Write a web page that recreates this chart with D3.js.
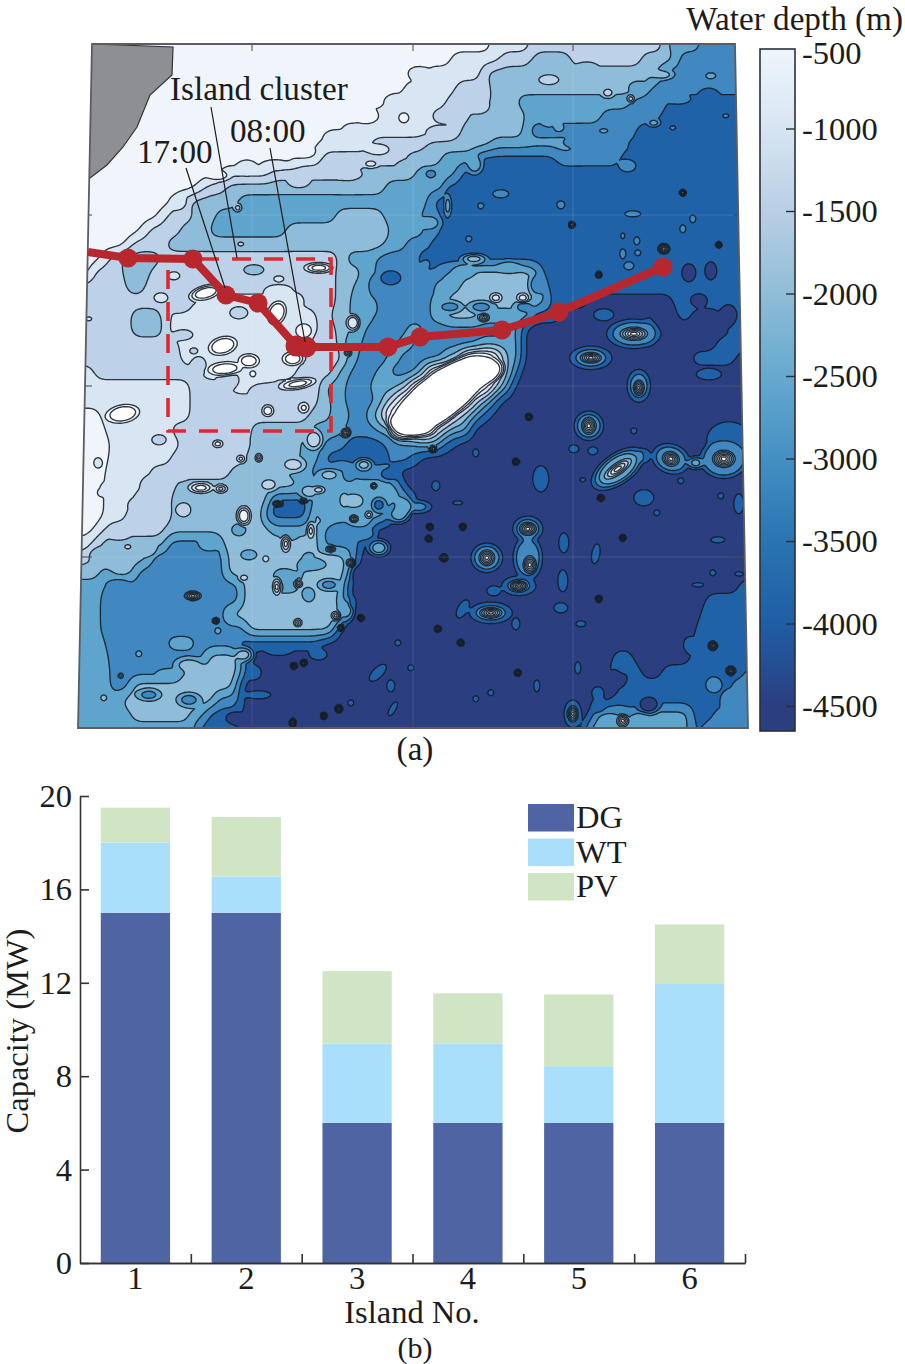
<!DOCTYPE html>
<html><head><meta charset="utf-8">
<script src="https://cdn.jsdelivr.net/npm/d3@7"></script>
<style>
html,body{margin:0;padding:0;background:#fff}
svg{display:block}
text{font-family:"Liberation Serif",serif;fill:#1c1c1c}
</style></head><body><svg id="c" width="905" height="1364"></svg>
<script>
// ---- Panel (a): bathymetry. Each row: "level:endKm" runs, west to east (map km).
const bandColors=["#ffffff","#eff5fb","#d8e5f3","#bdd2e8","#8fbcd9","#5ea4cc","#4088bf","#2062a7","#2a3e80"];
const bathymetryRuns=[
"1:412 2:452 3:587 5:622 6",
"1:372 2:422 3:452 4:492 3:562 4:597 6",
"1:347 2:402 3:407 4:582 6",
"1:325 2:377 3:412 4:562 5:572 6",
"1:307 2:367 3:412 4:437 5:552 6:590 7",
"1:287 2:352 3:392 4:447 5:522 6:582 7",
"1:262 2:375 3:382 4:447 6:557 7",
"1:240 2:292 3:347 4:412 5:497 6:552 7",
"1:217 2:242 3:327 4:362 5:397 7:477 6:542 7",
"1:142 2:192 3:280 4:337 5:380 7",
"1:117 2:127 3:147 4:307 5:367 7",
"1:92 2:100 3:112 4:159 5:352 7",
"1:80 2:87 3:114 4:137 5:257 4:305 5:342 6:362 7",
"1:62 2:69 3:102 4:130 5:207 4:312 5:347 6:362 7",
"1:47 2:54 3:87 4:307 5:327 6:352 7",
"1:22 2:30 3:42 4:82 3:260 4:267 5:297 6:342 7",
"1:12 2:14 3:44 4:72 3:257 4:282 5:297 6:367 5:392 4:452 5:462 7",
"3:47 4:67 3:257 4:274 5:290 6:357 5:382 4:457 5:467 7",
"3:117 2:222 3:257 4:272 5:294 6:352 5:367 4:452 5:470 7:510 8:594 7",
"3:52 4:82 3:92 2:237 3:252 4:272 5:297 6:352 5:367 4:400 5:452 7:482 8:600 7:612 8:642 7",
"3:52 4:87 2:240 3:257 4:272 5:287 6:327 5:345 6:430 5:442 8:652 7",
"3:100 2:232 3:262 5:282 6:317 5:335 6:400 5:442 8:637 7",
"3:102 2:227 3:267 5:280 6:307 5:322 6:365 4:384 0:420 4:428 5:442 8:612 7:657 8",
"2:15 3:122 2:217 3:257 5:272 6:297 5:312 6:340 4:350 0:417 3:427 5:437 8",
"2:112 3:152 2:192 3:244 5:267 6:290 5:320 4:332 0:410 3:420 5:432 8",
"2:112 3:240 4:252 5:267 6:297 5:307 3:320 0:392 3:402 5:414 7:422 8",
"1:22 2:112 3:232 4:252 5:272 6:290 4:307 0:372 3:387 5:400 7:412 8",
"1:27 2:92 3:172 4:232 5:267 6:297 5:317 0:354 3:367 5:392 8",
"1:32 2:102 3:172 4:222 5:247 6:267 7:307 6:337 5:362 7:377 8",
"1:30 2:92 3:167 4:222 5:242 7:312 6:332 7:342 8",
"1:27 2:72 3:152 4:207 5:232 6:257 5:272 6:314 8",
"1:25 2:62 3:97 4:222 5:322 8",
"1:25 2:52 3:92 4:192 7:232 5:262 4:287 5:334 8",
"1:25 2:47 3:94 4:187 7:232 4:252 5:312 8",
"1:15 2:27 3:87 4:192 5:232 4:242 6:287 5:294 8",
"2:12 3:22 4:87 6:142 4:242 6:282 8",
"3:12 4:72 6:147 4:222 5:237 4:267 5:278 8",
"4:22 5:32 4:57 6:147 4:217 5:227 4:272 8",
"5:25 6:162 4:192 5:222 4:267 8:660 7",
"5:22 6:162 4:257 5:270 8:627 7",
"5:22 6:147 4:267 8:622 7",
"5:22 6:167 4:257 8:617 7",
"5:27 6:87 5:117 6:157 7:242 8:614 7",
"5:30 6:127 4:162 7:172 8:534 7:554 8:612 7",
"5:32 6:102 4:162 7:177 8:530 7:562 8:584 7:667 6",
"5:32 6:52 4:157 7:162 8:544 7:652 6",
"5:42 4:137 6:162 8:534 7:649 6",
"5:52 4:112 5:127 7:162 8:514 5:542 6:562 5:612 7:634 6",
"5:117 7:157 8:507 5:612 7:622 6"];
// Features finer than the rows: [eastKm, southKm, radiusE, radiusS, level, bearing]
const contourLobes=[[339,28,9,6,2],[318,56,9,5,2],[290,72,9,6,1],[255,92,8,6,2],[225,108,10,5,1],[195,120,10,4,2],[168,122,8,6,2],[140,131,9,4,1],[100,158,7,6,2],
[400,62,8,6,3],[360,86,10,4,3],[300,105,10,5,2],[330,120,9,4,4],[270,130,11,4,3],[220,138,9,5,3],
[396,120,7,8,5],[375,150,7,7,7],[352,178,8,6,5],[372,205,9,6,7],[350,215,8,8,7],[330,231,9,5,6],[300,240,8,9,6],[290,262,7,8,5],
[470,35,10,5,3],[508,22,8,4,4],[558,42,7,5,5],[584,30,9,4,4],[470,70,8,10,5],[500,98,12,4,6],[560,100,7,5,7],[510,108,10,5,6],[600,55,10,4,6],[630,50,8,6,7],
[525,270,10,6,7],[570,285,6,12,7],[620,255,8,6,8],[600,310,9,7,8],[630,330,12,5,7],[650,270,8,10,8],
[230,447,8,6,4],[250,430,9,5,4],[300,460,6,6,7],[340,462,10,5,6],[320,470,9,7,5],[325,462,8,8,5],[300,503,9,7,5],[280,530,6,7,8],[268,565,6,9,5],[240,610,8,5,7],[200,606,10,4,7],[176,628,6,6,7],[180,650,12,4,7],[155,673,8,6,8],
[30,445,8,6,2],[60,415,7,8,2],[80,395,7,5,3],[100,430,8,5,3],[72,440,8,7,3],[40,488,9,6,3],[60,460,8,5,3],[105,465,7,7,3],[120,452,8,6,4],[20,510,8,6,4],[70,505,7,6,4],[130,500,9,6,5],[40,540,9,5,6],[110,620,12,6,4],[90,628,10,4,5],[165,610,8,6,4],[110,655,10,6,6],[70,650,10,5,6],[140,635,8,5,4],
[540,633,8,8,8],[520,660,6,7,7],[570,660,10,8,8],[610,600,5,7,7],[640,585,8,5,7],[635,640,8,8,6],[650,655,8,9,6],[600,690,10,5,6],[560,675,9,6,5],[530,682,7,6,5],
[100,260,9,7,3],[160,268,9,6,3],[200,245,12,5,2],[175,225,10,5,4],[215,255,8,6,2],[150,335,10,8,3],[185,345,12,6,3],[120,320,7,8,3],[105,290,9,5,3],
[185,395,9,6,4],[215,420,10,6,3],[130,415,8,5,3],[235,395,8,9,3],
[270,430,5,6,6],[285,420,7,5,4],[310,430,8,5,7],[280,475,9,6,5],[250,470,8,5,5],[235,520,12,5,5],[205,530,9,6,5],[190,440,7,5,3],[210,490,7,5,5],[285,490,10,5,6],[250,540,9,5,6],[160,485,7,6,5],[170,510,8,5,5],[230,550,6,7,5],
[385,226,9,6,5],[430,222,10,5,5],[458,240,7,9,6],[372,262,10,5,6],[402,262,11,5,6],[445,262,8,5,6],[365,245,7,7,5],[395,214,10,4,4]];
const mainIsland=[[362,351,60,23,0,-38],[400,328,24,13,0,-15],[332,380,22,10,0,10]];
const shoalIslands=[[127,248,14,6,0,-15],[198,268,8,11,0,20],[144,301,13,8,0,-15],[170,316,9,6,0,0],[146,324,15,6,0,-5],[214,314,9,6,0,0],[219,339,14,4,0,-10],[240,223,11,4,0,0],[44,369,15,8,0,-10],[189,366,5,5,1,0],[225,286,8,7,1,0],[274,278,6,7,2,0],[417,253,5,4,2,0],[444,253,5,4,2,0]];
const reefHalos=[[555,289,24,13,6,0],[512,313,18,10,6,0],[560,341,10,14,6,0],[510,381,13,13,6,0],[539,424,26,13,5,-35],[592,414,17,13,6,20],[617,418,7,5,5,0],[650,395,22,18,7,0],[645,414,22,18,6,0],[449,484,13,11,6,0],[449,513,13,20,6,0],[440,541,14,8,6,0],[408,513,14,13,6,0],[412,568,18,9,6,0],[494,669,7,11,6,0]];
const reefCores=[[555,289,21,10,1,0],[512,313,16,8,1,0],[560,343,8,12,1,0],[510,381,11,13,1,0],[539,424,25,9,1,-35],[592,414,13,11,1,20],[645,414,17,13,0,0],[449,484,13,10,1,0],[451,520,10,14,1,0],[440,541,13,8,1,0],[408,513,12,12,1,0],[412,568,17,8,1,0],[544,676,10,10,1,0],[634,601,7,7,1,0],[652,626,7,7,1,0],[365,513,6,6,1,0],[267,388,8,8,1,0],[354,404,6,6,1,0],[180,413,6,7,1,0],[162,414,8,7,1,0],[142,444,11,7,1,0],[199,459,8,5,1,0],[225,456,7,4,1,0],[198,542,8,15,1,0],[220,539,7,7,1,0],[219,578,7,7,1,0],[257,571,8,8,1,0],[272,518,7,7,1,0],[252,504,8,5,1,0],[275,474,7,6,1,0],[295,441,5,5,1,0],[114,551,13,7,1,0],[207,499,8,14,1,0],[232,486,7,15,2,0],[260,664,6,6,1,0],[214,678,5,7,2,0],[225,363,10,10,1,0],[269,308,6,6,1,0],[405,273,9,7,1,0],[585,204,9,8,1,0],[494,669,7,11,2,0]];
const oceanPatches=[[357,441,4,5,7,0],[379,458,5,2,7,0],[384,564,5,10,7,30],[312,641,4,6,7,0],[299,628,11,5,7,-45],[314,664,3,8,7,30],[462,434,8,13,7,0],[565,453,10,8,7,0],[485,498,5,10,7,0],[517,509,4,10,7,10],[484,536,5,11,7,0],[482,563,7,5,7,0],[545,619,7,9,7,0],[415,546,7,5,7,0],[660,459,5,10,7,0],[639,495,7,3,7,0],[519,648,6,6,7,0],[495,404,5,4,7,0],[514,406,5,4,7,0],[565,411,7,7,7,0],[555,386,3,3,7,0],[602,436,3,3,7,0],[642,451,3,3,7,0],[578,468,3,3,7,0],[502,579,5,3,7,0],[458,641,3,6,7,0],[412,648,3,3,7,0],[437,579,4,6,7,0],[499,623,3,6,7,0],[660,529,4,2,7,0],[619,540,6,2,7,0],[634,528,3,3,7,0],[504,435,3,2,7,0],[397,408,3,4,7,0],[319,598,3,3,7,0],[332,623,3,3,7,0],[272,658,3,3,7,0],[397,654,3,3,7,0],[274,558,3,5,7,0],[610,228,7,9,8,0],[632,226,6,9,8,0],[544,209,3,5,6,0],[559,208,3,3,6,0],[550,221,5,4,6,0],[558,196,3,4,6,0],[544,191,2,3,6,0],[614,174,3,4,6,0],[604,184,3,4,6,0],[554,169,8,3,6,0],[482,160,4,4,6,0],[422,149,8,4,6,0],[549,121,8,6,6,0],[369,161,3,9,5,0],[402,161,3,3,6,0],[390,194,3,3,6,0],[352,129,5,4,6,0],[312,233,10,7,7,0],[347,219,4,4,6,0]];
const blackSpecks=[[520,554],[439,628],[544,493],[450,372],[522,453],[437,417],[351,482],[384,482],[350,494],[282,573],[262,583],[215,621],[225,618],[245,671],[382,598],[359,584],[137,576],[604,148],[640,200],[520,230],[493,180]];
const shelfRings=[[632,31,5,3,5,0],[529,48,5,4,3,0],[552,54,3,3,3,0],[480,83,4,3,5,0],[525,86,4,2,5,0],[575,78,5,3,5,0],[594,83,3,2,6,0],[647,71,3,2,6,0],[325,73,5,5,1,0],[292,119,6,3,2,0],[200,234,5,3,2,0],[162,199,3,2,3,0],[159,163,3,3,3,0],[95,231,6,4,2,0],[82,253,7,5,2,0],[10,274,3,2,2,0],[174,329,3,3,1,0],[115,306,4,3,3,0],[139,399,4,3,1,0],[19,418,4,5,2,0],[22,448,3,3,2,0],[49,502,3,2,3,0],[60,609,3,3,5,0],[42,631,2,2,4,0],[139,586,3,3,5,0],[25,653,3,3,4,0],[165,471,6,8,1,0],[122,443,9,4,1,0],[165,533,4,3,3,0],[187,514,3,3,3,0],[240,445,5,3,3,0],[265,455,3,5,4,0],[290,470,3,3,3,0]];
const mainlandCoast=[[14,0],[95,3],[94,31],[72,51],[59,83],[45,103],[29,121],[12,134],[0,140],[0,0]];
const mapFrame=[[14,0],[657,0],[670,684],[0,684]];
const gridEast=[174,335,495], gridSouth=[171,342,513];
const routeStops=[[10,208],[50,214],[115,215],[148,251],[180,259],[218,302],[228,303],[310,303],[342,293],[424,286],[481,268],[585,223]];
const clusterBox=[[90,215],[253,387]];
const notes=[{t:"Island cluster",e:92,s:56,to:[[133,63],[159,214]]},{t:"17:00",e:59,s:119,to:[[108,124],[147,244]]},{t:"08:00",e:152,s:98,to:[[192,104],[227,298]]}];
// colour bar
const depthTicks=[-500,-1000,-1500,-2000,-2500,-3000,-3500,-4000,-4500];
const depthStops=[["-500","#eef5fb"],["-1000","#d7e5f2"],["-1500","#b9cfe5"],["-2000","#8fbdd7"],["-2500","#66a9cf"],["-3000","#4490c3"],["-3500","#2a74b1"],["-4000","#1f5ea5"],["-4500","#2b3e80"]];
// ---- Panel (b)
const islands=["1","2","3","4","5","6"];
const dgCapacity=[15,15,6,6,6,6];
const wtCapacity=[3,1.55,3.4,3.4,2.43,5.95];
const pvCapacity=[1.5,2.55,3.1,2.15,3.07,2.55];
const capacityTicks=[0,4,8,12,16,20];
const seriesNames=["DG","WT","PV"];
const seriesColors=["#4f65a3","#aadffb","#cfe5c4"];

const svg=d3.select("#c");
const FS=33.2;
const eX=d3.scaleLinear().domain([0,670]).range([78,748]);
const sY=d3.scaleLinear().domain([0,684]).range([44,728]);

// --- field
const cell=1.6,nx=Math.ceil(670/cell)+1,ny=Math.ceil(684/cell)+1;
const rowStep=684/(bathymetryRuns.length-1);
const parsed=bathymetryRuns.map(r=>r.split(" ").map(p=>{const[a,b]=p.split(":");return[+a,b===undefined?1e9:+b]}));
const levelAt=(row,e)=>{for(const[l,end]of row)if(e<end)return l;return row[row.length-1][0]};
const rowCols=parsed.map(row=>d3.range(nx).map(i=>levelAt(row,i*cell)));
const field=new Float64Array(nx*ny);
for(let j=0;j<ny;j++){const q=j*cell/rowStep,j0=Math.min(Math.floor(q),rowCols.length-1),j1=Math.min(j0+1,rowCols.length-1),t=q-j0;
 for(let i=0;i<nx;i++)field[j*nx+i]=rowCols[j0][i]*(1-t)+rowCols[j1][i]*t;}
d3.blur2({data:field,width:nx,height:ny},3,2.6);
function stamp(list,edge,cone){for(const[e,s,rx,ry,lev,ang=0]of list){
 const a=ang*Math.PI/180,c=Math.cos(a),si=Math.sin(a),R=Math.max(rx,ry)+edge+2;
 const ek=Math.min(edge/Math.min(rx,ry),.6);
 for(let j=Math.max(0,Math.floor((s-R)/cell));j<=Math.min(ny-1,Math.ceil((s+R)/cell));j++)
 for(let i=Math.max(0,Math.floor((e-R)/cell));i<=Math.min(nx-1,Math.ceil((e+R)/cell));i++){
  const dx=i*cell-e,dy=j*cell-s,u=(dx*c+dy*si)/rx,v=(-dx*si+dy*c)/ry,d=Math.hypot(u,v);
  let b=cone?(1-d)/.85:(1+ek-d)/(2*ek);b=Math.max(0,Math.min(1,b));
  const idx=j*nx+i;field[idx]+=(lev-field[idx])*b;}}}
stamp(contourLobes.map(d=>[...d,0]),3.5);
stamp(oceanPatches,2.5);stamp(shelfRings,2.5);stamp(reefHalos,3.5);stamp(mainIsland,2.2);stamp(shoalIslands,2.2);
stamp(reefCores.map(([e,s,rx,ry,l,a])=>[e,s,rx*.72,ry*.72,l,a]),0,true);
stamp(blackSpecks.map(([e,s])=>[e,s,3.6,3.6,1,0]),0,true);

const thresholds=d3.range(1,9).map(l=>l-.5);
const contours=d3.contours().size([nx,ny]).smooth(true).thresholds(thresholds)(field);
const grid2map=d3.geoTransform({point(x,y){this.stream.point(eX(x*cell),sY(y*cell))}});
const gpath=d3.geoPath(grid2map);

const poly=a=>"M"+a.map(p=>eX(p[0])+","+sY(p[1])).join("L")+"Z";
svg.append("defs").append("clipPath").attr("id","mc").append("path").attr("d",poly(mapFrame));
const map=svg.append("g").attr("clip-path","url(#mc)");
map.append("rect").attr("x",eX(0)).attr("y",sY(0)).attr("width",670).attr("height",684).attr("fill",bandColors[0]);
map.selectAll("path.b").data(contours).join("path").attr("class","b").attr("d",gpath)
 .attr("fill",(d,i)=>bandColors[i+1]).attr("stroke","#141b24").attr("stroke-width",1.35).attr("stroke-opacity",.88).attr("stroke-linejoin","round");
gridEast.forEach(g=>map.append("line").attr("x1",eX(g)).attr("x2",eX(g)).attr("y1",sY(0)).attr("y2",sY(684)).attr("stroke","#fff").attr("stroke-opacity",.12));
gridSouth.forEach(g=>map.append("line").attr("x1",eX(0)).attr("x2",eX(670)).attr("y1",sY(g)).attr("y2",sY(g)).attr("stroke","#fff").attr("stroke-opacity",.12));
gridEast.forEach(g=>{map.append("line").attr("x1",eX(g)).attr("x2",eX(g)).attr("y1",sY(0)).attr("y2",sY(7)).attr("stroke","#444");map.append("line").attr("x1",eX(g)).attr("x2",eX(g)).attr("y1",sY(677)).attr("y2",sY(684)).attr("stroke","#444")});
gridSouth.forEach(g=>{map.append("line").attr("x1",eX(0)).attr("x2",eX(14)).attr("y1",sY(g)).attr("y2",sY(g)).attr("stroke","#444");map.append("line").attr("x1",eX(655)).attr("x2",eX(670)).attr("y1",sY(g)).attr("y2",sY(g)).attr("stroke","#444")});
map.append("path").attr("d",poly(mainlandCoast)).attr("fill","#8d8f93").attr("stroke","#333").attr("stroke-width",1.2);
svg.append("path").attr("d",poly(mapFrame)).attr("fill","none").attr("stroke","#5a5d62").attr("stroke-width",1.8);

svg.append("rect").attr("x",eX(clusterBox[0][0])).attr("y",sY(clusterBox[0][1])).attr("width",eX(clusterBox[1][0])-eX(clusterBox[0][0])).attr("height",sY(clusterBox[1][1])-sY(clusterBox[0][1]))
 .attr("fill","none").attr("stroke","#e0282f").attr("stroke-width",3.6).attr("stroke-dasharray","19 13");
const rl=d3.line().x(d=>eX(d[0])).y(d=>sY(d[1]));
svg.append("path").attr("d",rl(routeStops)).attr("fill","none").attr("stroke","#b8272e").attr("stroke-width",8);
svg.selectAll("circle.stop").data(routeStops.slice(1)).join("circle").attr("class","stop").attr("cx",d=>eX(d[0])).attr("cy",d=>sY(d[1])).attr("r",(d,i)=>(i==4||i==5)?10.5:9.5).attr("fill","#b8272e");
notes.forEach(n=>{
 svg.append("text").attr("x",eX(n.e)).attr("y",sY(n.s)).attr("font-size",FS).text(n.t);
 svg.append("path").attr("d",rl(n.to)).attr("stroke","#1c1c1c").attr("stroke-width",1.2).attr("fill","none");
});
svg.append("text").attr("x",415).attr("y",760).attr("text-anchor","middle").attr("font-size",FS).text("(a)");

const cb=d3.scaleLinear().domain([-500,-4500]).range([46,706]);
const barTop=49,barBot=731,barL=760,barR=795;
const lg=svg.select("defs").append("linearGradient").attr("id","cbg").attr("gradientUnits","userSpaceOnUse").attr("x1",0).attr("x2",0).attr("y1",barTop).attr("y2",barBot);
depthStops.forEach(([d,c])=>lg.append("stop").attr("offset",Math.max(0,(cb(+d)-barTop)/(barBot-barTop))).attr("stop-color",c));
svg.append("rect").attr("x",barL).attr("y",barTop).attr("width",barR-barL).attr("height",barBot-barTop).attr("fill","url(#cbg)").attr("stroke","#2b3038").attr("stroke-width",1.6);
const cbAxis=d3.axisRight(cb).tickValues(depthTicks).tickSizeOuter(0).tickSizeInner(-9).tickPadding(7).tickFormat(d=>String(d));
const cg=svg.append("g").attr("transform",`translate(${barR},0)`).call(cbAxis);
cg.select(".domain").remove();
cg.selectAll("text").attr("font-size",32.5).attr("font-family",'"Liberation Serif"').attr("fill","#1c1c1c").attr("dy",".33em");
cg.selectAll(".tick").filter(d=>d===-500).select("line").remove();
cg.selectAll(".tick").filter(d=>d===-500).select("text").attr("y",7);
cg.selectAll("line").attr("stroke","#2b3038").attr("stroke-width",1.4);
svg.append("text").attr("x",903).attr("y",30).attr("text-anchor","end").attr("font-size",FS).text("Water depth (m)");

const X0=80,X1=745,Y0=1263,Y1=796;
const xb=d3.scaleBand().domain(islands).range([X0,X1]).paddingInner(.375).paddingOuter(.1875);
const yb=d3.scaleLinear().domain([0,20]).range([Y0,Y1]);
const table=islands.map((k,i)=>({k,DG:dgCapacity[i],WT:wtCapacity[i],PV:pvCapacity[i]}));
const stack=d3.stack().keys(seriesNames)(table);
svg.append("g").selectAll("g").data(stack).join("g").attr("fill",(d,i)=>seriesColors[i])
 .selectAll("rect").data(d=>d).join("rect").attr("x",d=>xb(d.data.k)).attr("width",xb.bandwidth()).attr("y",d=>yb(d[1])).attr("height",d=>yb(d[0])-yb(d[1]));
const ya=svg.append("g").attr("transform",`translate(${X0},0)`).call(d3.axisLeft(yb).tickValues(capacityTicks).tickSizeOuter(0).tickSizeInner(-9).tickPadding(9));
const xa=svg.append("g").attr("transform",`translate(0,${Y0})`).call(d3.axisBottom(xb).tickSize(0).tickPadding(3));
const edges=d3.scaleLinear().domain([0,6]).range([X0,X1]);
const xe=svg.append("g").attr("transform",`translate(0,${Y0})`).call(d3.axisBottom(edges).tickValues(d3.range(1,7)).tickSizeOuter(0).tickSizeInner(-9).tickFormat(""));
xe.selectAll("text").remove();
[ya,xa,xe].forEach(g=>{g.selectAll("text").attr("font-size",32.5).attr("font-family",'"Liberation Serif"').attr("fill","#1c1c1c");
 g.selectAll("line,.domain").attr("stroke","#333").attr("stroke-width",1.6)});
ya.selectAll("text").attr("x",-8);
xa.selectAll("text").attr("dy",".72em");
svg.append("text").attr("x",412).attr("y",1323).attr("text-anchor","middle").attr("font-size",32.5).text("Island No.");
svg.append("text").attr("x",415).attr("y",1357.5).attr("text-anchor","middle").attr("font-size",30).text("(b)");
svg.append("text").attr("transform","translate(28,1031) rotate(-90)").attr("text-anchor","middle").attr("font-size",32.5).text("Capacity (MW)");
const lgY=d3.scalePoint().domain(seriesNames).range([804,873]);
seriesNames.forEach((n,i)=>{
 svg.append("rect").attr("x",528).attr("y",lgY(n)).attr("width",46).attr("height",27.5).attr("fill",seriesColors[i]);
 svg.append("text").attr("x",576).attr("y",lgY(n)+24).attr("font-size",32.5).text(n);
});
</script></body></html>
